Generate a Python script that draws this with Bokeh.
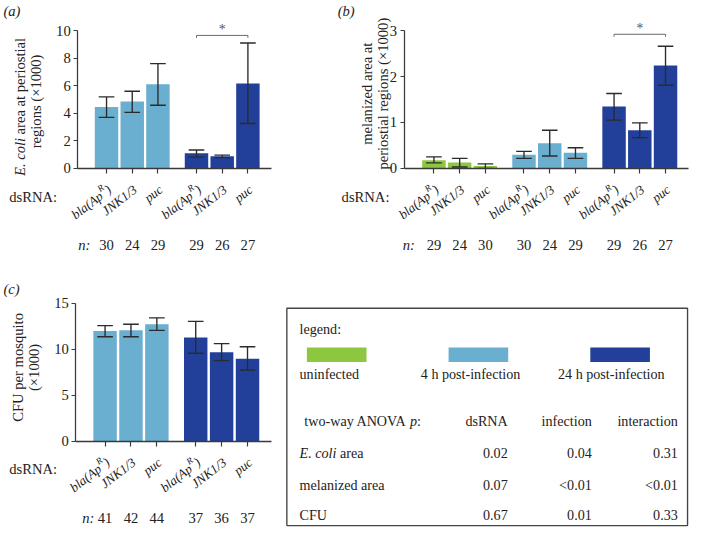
import math
from bokeh.plotting import figure
from bokeh.models import LinearAxis, FixedTicker, Range1d
from bokeh.layouts import column, row
from bokeh.core.properties import value
from bokeh.embed import file_html
from bokeh.resources import INLINE

# ------------------------------------------------------------------ data
dsrna_genes = ["bla(ApR)", "JNK1/3", "puc"]

ecoli_4h = [4.45, 4.85, 6.10]
ecoli_4h_lo = [3.70, 4.07, 4.58]
ecoli_4h_hi = [5.19, 5.60, 7.60]
ecoli_24h = [1.10, 0.88, 6.17]
ecoli_24h_lo = [0.82, 0.78, 3.26]
ecoli_24h_hi = [1.34, 0.96, 9.10]
ecoli_n = [30, 24, 29, 29, 26, 27]
ecoli_yticks = [0, 2, 4, 6, 8, 10]
ecoli_sig = 9.65

mel_un = [0.18, 0.13, 0.05]
mel_un_lo = [0.12, 0.03, 0.00]
mel_un_hi = [0.25, 0.22, 0.10]
mel_4h = [0.30, 0.55, 0.34]
mel_4h_lo = [0.22, 0.27, 0.22]
mel_4h_hi = [0.37, 0.83, 0.45]
mel_24h = [1.35, 0.83, 2.24]
mel_24h_lo = [1.05, 0.67, 1.81]
mel_24h_hi = [1.63, 0.99, 2.66]
mel_n = [29, 24, 30, 30, 24, 29, 29, 26, 27]
mel_yticks = [0, 1, 2, 3]
mel_sig = 2.92

cfu_4h = [11.99, 12.06, 12.72]
cfu_4h_lo = [11.36, 11.36, 12.06]
cfu_4h_hi = [12.58, 12.72, 13.42]
cfu_24h = [11.29, 9.67, 8.97]
cfu_24h_lo = [9.57, 8.76, 7.75]
cfu_24h_hi = [13.04, 10.62, 10.27]
cfu_n = [41, 42, 44, 37, 36, 37]
cfu_yticks = [0, 5, 10, 15]

legend_labels = ["uninfected", "4 h post-infection", "24 h post-infection"]
anova_columns = ["dsRNA", "infection", "interaction"]
anova_rows = ["E. coli area", "melanized area", "CFU"]
anova_dsrna = ["0.02", "0.07", "0.67"]
anova_infection = ["0.04", "<0.01", "0.01"]
anova_interaction = ["0.31", "<0.01", "0.33"]

# ------------------------------------------------------------------ style
SX = 689 / 705.0
SY = 529 / 545.0
S = (SX + SY) / 2
FONT = "Liberation Serif"
INK = "#222222"
AXC = "#3a3a3a"
GREEN = "#8DC63F"
LIGHT = "#6AAED0"
DARK = "#22409A"
TH = math.radians(38)

# Times-compatible advance widths (per 1000 em)
W_REG = {" ": 250, "a": 444, "r": 333, "e": 444, "t": 278, "w": 722, "o": 500, "-": 333,
         "y": 500, "A": 722, "N": 722, "O": 722, "V": 722}
W_IT = {"E": 611, ".": 250, " ": 250, "c": 444, "o": 500, "l": 278, "i": 278, "p": 500,
        ")": 333, "R": 611}


def tw(s, size, italic=False):
    tab = W_IT if italic else W_REG
    return sum(tab.get(ch, 500) for ch in s) * size / 1000.0


def fpx(v):
    return f"{v * S:.2f}px"


def txt(p, xs, ys, ss, size, align="left", baseline="middle", angle=0.0,
        style="normal", xo=0.0, yo=0.0, color=INK):
    p.text(x=xs, y=ys, text=ss, text_font=value(FONT), text_font_size=fpx(size),
           text_align=align, text_baseline=baseline, angle=angle,
           text_font_style=style, x_offset=xo * S, y_offset=yo * S, text_color=color)


def make_fig(W, H, xr, yr):
    p = figure(width=W, height=H, x_range=xr, y_range=yr, x_axis_type=None,
               y_axis_type=None, toolbar_location=None, output_backend="svg",
               min_border=0, outline_line_color=None)
    p.background_fill_color = "white"
    p.border_fill_color = "white"
    return p


def bar_panel(W, H, ref_left, ref_top, c0, pitch, axis_y, ppu):
    x0 = (ref_left - c0) / pitch
    x1 = x0 + (W / SX) / pitch
    y1 = (axis_y - ref_top) / ppu
    y0 = y1 - (H / SY) / ppu
    p = make_fig(W, H, Range1d(x0, x1), Range1d(y0, y1))
    fx = lambda rx: (rx - c0) / pitch
    fy = lambda ry: (axis_y - ry) / ppu
    return p, fx, fy


def draw_bars(p, pos, vals, lo, hi, color, pitch):
    p.vbar(x=pos, top=vals, bottom=0, width=24.0 / pitch, fill_color=color, line_color=None)
    cw = 8.0 / pitch
    p.segment(x0=pos, y0=lo, x1=pos, y1=hi, line_color="#2b2b2b", line_width=1.4 * S)
    p.segment(x0=[x - cw for x in pos], y0=hi, x1=[x + cw for x in pos], y1=hi,
              line_color="#2b2b2b", line_width=1.4 * S)
    p.segment(x0=[x - cw for x in pos], y0=lo, x1=[x + cw for x in pos], y1=lo,
              line_color="#2b2b2b", line_width=1.4 * S)


def axes(p, fx, yaxis_x, xaxis_end, yticks, xticks):
    yax = LinearAxis(fixed_location=fx(yaxis_x), bounds=(yticks[0], yticks[-1]),
                     ticker=FixedTicker(ticks=yticks, minor_ticks=[]))
    yax.axis_line_color = AXC
    yax.axis_line_width = 1.3 * S
    yax.major_tick_line_color = AXC
    yax.major_tick_line_width = 1.2 * S
    yax.major_tick_out = 4
    yax.major_tick_in = 0
    yax.minor_tick_line_color = None
    yax.major_label_standoff = 3
    yax.major_label_text_font = FONT
    yax.major_label_text_font_size = fpx(15)
    yax.major_label_text_color = INK
    p.add_layout(yax, "left")
    xax = LinearAxis(fixed_location=0, bounds=(fx(yaxis_x), fx(xaxis_end)),
                     ticker=FixedTicker(ticks=xticks, minor_ticks=[]))
    xax.axis_line_color = AXC
    xax.axis_line_width = 1.3 * S
    xax.major_tick_line_color = AXC
    xax.major_tick_line_width = 1.2 * S
    xax.major_tick_out = 5
    xax.major_tick_in = 0
    xax.minor_tick_line_color = None
    xax.major_label_text_color = None
    p.add_layout(xax, "below")


def gene_labels(p, fy, pos, axis_y):
    fs = 13.5
    fsup = 9.5
    yb = fy(axis_y + 20)
    c, s = math.cos(TH), math.sin(TH)
    dx0 = 3.0
    plain_x, plain_t, sup_x, base_t = [], [], [], []
    for i, x in enumerate(pos):
        name = dsrna_genes[i % 3]
        if name.endswith("R)"):
            sup_x.append(x)
            base_t.append(name[:-2])
        else:
            plain_x.append(x)
            plain_t.append(name)
    txt(p, plain_x, [yb] * len(plain_x), plain_t, fs, align="right", baseline="alphabetic",
        angle=TH, style="italic", xo=dx0)
    # "bla(Ap" + superscript "R" + ")"
    d1 = tw(")", fs, True)
    d2 = d1 + tw("R", fsup, True) + 0.5
    r = 0.40 * fs
    txt(p, sup_x, [yb] * len(sup_x), [")"] * len(sup_x), fs, align="right",
        baseline="alphabetic", angle=TH, style="italic", xo=dx0)
    txt(p, sup_x, [yb] * len(sup_x), ["R"] * len(sup_x), fsup, align="right",
        baseline="alphabetic", angle=TH, style="italic",
        xo=dx0 - d1 * c - r * s, yo=d1 * s - r * c)
    txt(p, sup_x, [yb] * len(sup_x), base_t, fs, align="right",
        baseline="alphabetic", angle=TH, style="italic",
        xo=dx0 - d2 * c, yo=d2 * s)


def rows_below(p, fx, fy, pos, ns, axis_y, dsrna_right, n_right):
    txt(p, [fx(dsrna_right)], [fy(axis_y + 29)], ["dsRNA:"], 15, align="right")
    txt(p, [fx(n_right)], [fy(axis_y + 79)], ["n:"], 15, align="right", style="italic")
    txt(p, pos, [fy(axis_y + 79)] * len(pos), [str(v) for v in ns], 15, align="center")


def sig_bracket(p, x0, x1, yv, tick_len):
    p.segment(x0=[x0], y0=[yv], x1=[x1], y1=[yv], line_color="#666666", line_width=1.0 * S)
    p.segment(x0=[x0, x1], y0=[yv, yv], x1=[x0, x1], y1=[yv - tick_len, yv - tick_len],
              line_color="#666666", line_width=1.0 * S)


# ------------------------------------------------------------------ sizes
TOTAL_W, TOTAL_H = 689, 529
WA = int(round(340 * SX))
WB = TOTAL_W - WA
HT = int(round(290 * SY))
HB = TOTAL_H - HT
WC = int(round(290 * SX))
WL = TOTAL_W - WC

# ------------------------------------------------------------------ panel (a)
pa_pos = [0, 1, 2, 3.5, 4.5, 5.5]
A_PITCH, A_PPU, A_AX = 26.3, 14.2, 173.0
pa, fxa, fya = bar_panel(WA, HT, 0.0, 0.0, 108.5, A_PITCH, A_AX, A_PPU)
draw_bars(pa, pa_pos[:3], ecoli_4h, ecoli_4h_lo, ecoli_4h_hi, LIGHT, A_PITCH)
draw_bars(pa, pa_pos[3:], ecoli_24h, ecoli_24h_lo, ecoli_24h_hi, DARK, A_PITCH)
axes(pa, fxa, 79, 277, ecoli_yticks, pa_pos)
sig_bracket(pa, pa_pos[3], pa_pos[5], ecoli_sig, 2.5 / A_PPU)
txt(pa, [(pa_pos[3] + pa_pos[5]) / 2], [ecoli_sig + 6 / A_PPU], ["*"], 14, align="center",
    color="#555555")
gene_labels(pa, fya, pa_pos, A_AX)
rows_below(pa, fxa, fya, pa_pos, ecoli_n, A_AX, 58, 92)
txt(pa, [fxa(3)], [fya(11)], ["(a)"], 15, style="italic")
# y label (two lines, first line with italic "E. coli")
l1a, l1b = "E. coli", "area at periostial"
fsl = 15
w1 = tw(l1a + " ", fsl, True) + tw(l1b, fsl)
ystart = 104 + w1 / 2
txt(pa, [fxa(20)], [fya(ystart)], [l1a], fsl, angle=math.pi / 2, style="italic")
txt(pa, [fxa(20)], [fya(ystart - tw(l1a + " ", fsl, True))], [l1b], fsl, angle=math.pi / 2)
txt(pa, [fxa(36)], [fya(104)], ["regions (\u00d71000)"], fsl, align="center", angle=math.pi / 2)

# ------------------------------------------------------------------ panel (b)
pb_pos = [0, 1, 2, 3.5, 4.5, 5.5, 7, 8, 9]
B_PITCH, B_PPU, B_AX = 26.33, 47.33, 173.0
pb, fxb, fyb = bar_panel(WB, HT, WA / SX, 0.0, 443.5, B_PITCH, B_AX, B_PPU)
draw_bars(pb, pb_pos[:3], mel_un, mel_un_lo, mel_un_hi, GREEN, B_PITCH)
draw_bars(pb, pb_pos[3:6], mel_4h, mel_4h_lo, mel_4h_hi, LIGHT, B_PITCH)
draw_bars(pb, pb_pos[6:], mel_24h, mel_24h_lo, mel_24h_hi, DARK, B_PITCH)
axes(pb, fxb, 413, 704, mel_yticks, pb_pos)
sig_bracket(pb, pb_pos[6], pb_pos[8], mel_sig, 2.5 / B_PPU)
txt(pb, [(pb_pos[6] + pb_pos[8]) / 2], [mel_sig + 6 / B_PPU], ["*"], 14, align="center",
    color="#555555")
gene_labels(pb, fyb, pb_pos, B_AX)
rows_below(pb, fxb, fyb, pb_pos, mel_n, B_AX, 398, 424)
txt(pb, [fxb(345)], [fyb(11)], ["(b)"], 15, style="italic")
txt(pb, [fxb(375)], [fyb(96)], ["melanized area at"], fsl, align="center", angle=math.pi / 2)
txt(pb, [fxb(391)], [fyb(96)], ["periostial regions (\u00d71000)"], fsl, align="center",
    angle=math.pi / 2)

# ------------------------------------------------------------------ panel (c)
pc_pos = [0, 1, 2, 3.5, 4.5, 5.5]
C_PITCH, C_PPU, C_AX = 26.5, 9.467, 454.0
pc, fxc, fyc = bar_panel(WC, HB, 0.0, HT / SY, 107.0, C_PITCH, C_AX, C_PPU)
draw_bars(pc, pc_pos[:3], cfu_4h, cfu_4h_lo, cfu_4h_hi, LIGHT, C_PITCH)
draw_bars(pc, pc_pos[3:], cfu_24h, cfu_24h_lo, cfu_24h_hi, DARK, C_PITCH)
axes(pc, fxc, 77, 277, cfu_yticks, pc_pos)
gene_labels(pc, fyc, pc_pos, C_AX)
rows_below(pc, fxc, fyc, pc_pos, cfu_n, C_AX, 58, 96)
txt(pc, [fxc(3)], [fyc(297)], ["(c)"], 15, style="italic")
txt(pc, [fxc(18)], [fyc(378)], ["CFU per mosquito"], fsl, align="center", angle=math.pi / 2)
txt(pc, [fxc(34)], [fyc(378)], ["(\u00d71000)"], fsl, align="center", angle=math.pi / 2)

# ------------------------------------------------------------------ legend / table
LX0, LY0 = WC / SX, HT / SY
pl = make_fig(WL, HB, Range1d(LX0, LX0 + WL / SX), Range1d(LY0 + HB / SY, LY0))
pl.quad(left=[293], right=[703], top=[317], bottom=[541], fill_color=None,
        line_color="#444444", line_width=1.4 * S)
fsL = 14.5
txt(pl, [306], [338], ["legend:"], fsL)
sw_x = [344, 489, 634]
pl.rect(x=sw_x, y=[365] * 3, width=61, height=15, fill_color=[GREEN, LIGHT, DARK],
        line_color=None)
txt(pl, [306], [385], [legend_labels[0]], fsL)
txt(pl, [481, 625], [385, 385], legend_labels[1:], fsL, align="center")
row_y = [466, 499, 530]
hdr_y = 433
# "two-way ANOVA p:" with italic p; split anchored at the p
p_left = 419.0
txt(pl, [p_left - tw(" ", fsL) / SX], [hdr_y], ["two-way ANOVA"], fsL, align="right")
txt(pl, [p_left], [hdr_y], ["p"], fsL, style="italic")
txt(pl, [p_left + tw("p", fsL, True) * S / SX], [hdr_y], [":"], fsL)
col_x = [519, 605, 693]
txt(pl, col_x, [hdr_y] * 3, anova_columns, fsL, align="right")
# row labels
txt(pl, [306], [row_y[0]], ["E. coli"], fsL, style="italic")
txt(pl, [306 + tw("E. coli ", fsL, True) * S / SX], [row_y[0]],
    [anova_rows[0].split(" ", 2)[2]], fsL)
txt(pl, [306, 306], row_y[1:], anova_rows[1:], fsL)
for cx, vals in zip(col_x, [anova_dsrna, anova_infection, anova_interaction]):
    txt(pl, [cx] * 3, row_y, vals, fsL, align="right")

layout = column(row(pa, pb), row(pc, pl))
open("out.html", "w").write(file_html(layout, INLINE))
